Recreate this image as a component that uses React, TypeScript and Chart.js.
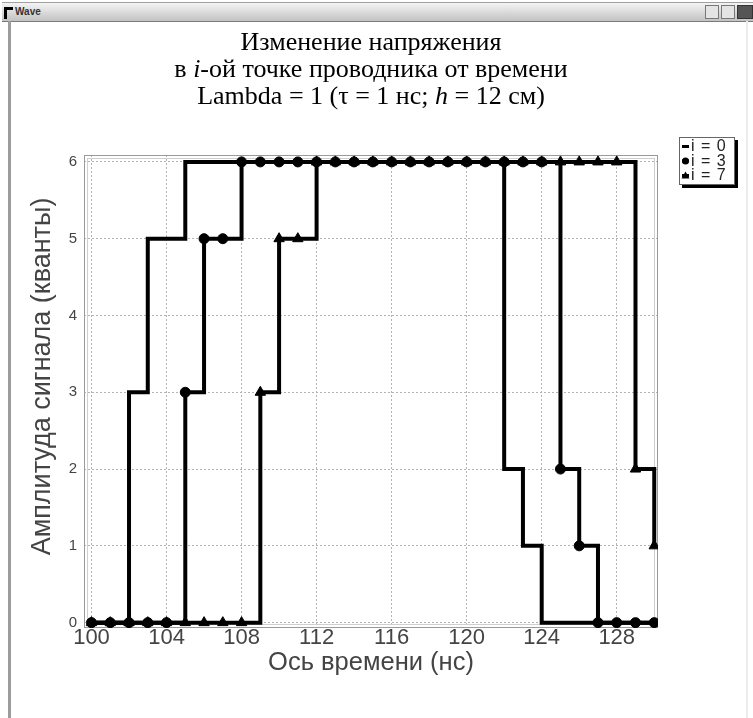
import React, { useEffect, useRef } from "react";
import { Chart, registerables } from "chart.js";

Chart.register(...registerables);

// ---- data ----
const times = [
  100, 101, 102, 103, 104, 105, 106, 107, 108, 109, 110, 111, 112, 113, 114, 115,
  116, 117, 118, 119, 120, 121, 122, 123, 124, 125, 126, 127, 128, 129, 130,
];
const seriesLabels = ["i = 0", "i = 3", "i = 7"];
const amp0 = [0, 0, 3, 5, 5, 6, 6, 6, 6, 6, 6, 6, 6, 6, 6, 6, 6, 6, 6, 6, 6, 6, 2, 1, 0, 0, 0, 0, 0, 0, 0];
const amp3 = [0, 0, 0, 0, 0, 3, 5, 5, 6, 6, 6, 6, 6, 6, 6, 6, 6, 6, 6, 6, 6, 6, 6, 6, 6, 2, 1, 0, 0, 0, 0];
const amp7 = [0, 0, 0, 0, 0, 0, 0, 0, 0, 3, 5, 5, 6, 6, 6, 6, 6, 6, 6, 6, 6, 6, 6, 6, 6, 6, 6, 6, 6, 2, 1];
const xTickValues = [100, 104, 108, 112, 116, 120, 124, 128];
const yTickValues = [0, 1, 2, 3, 4, 5, 6];
const xAxisTitle = "Ось времени (нс)";
const yAxisTitle = "Амплитуда сигнала (кванты)";
const titleLine1 = [{ text: "Изменение напряжения", italic: false }];
const titleLine2 = [
  { text: "в ", italic: false },
  { text: "i", italic: true },
  { text: "-ой точке проводника от времени", italic: false },
];
const titleLine3 = [
  { text: "Lambda = 1 (τ = 1 нс; ", italic: false },
  { text: "h", italic: true },
  { text: " = 12 см)", italic: false },
];
const titleLines = [titleLine1, titleLine2, titleLine3];

const SANS = '"Liberation Sans", Arial, sans-serif';
const SERIF = '"Liberation Serif", "Times New Roman", serif';

const titlePlugin = {
  id: "serifTitle",
  afterDraw(chart: any) {
    const ctx = chart.ctx;
    const cx = 359;
    const ys = [21, 48, 75];
    ctx.save();
    ctx.fillStyle = "#000";
    ctx.textBaseline = "middle";
    ctx.textAlign = "left";
    titleLines.forEach((segs, li) => {
      const fonts = segs.map((s) => `${s.italic ? "italic " : ""}26px ${SERIF}`);
      const widths = segs.map((s, k) => {
        ctx.font = fonts[k];
        return ctx.measureText(s.text).width;
      });
      const total = widths.reduce((a, b) => a + b, 0);
      let x = cx - total / 2;
      segs.forEach((s, k) => {
        ctx.font = fonts[k];
        ctx.fillText(s.text, x, ys[li]);
        x += widths[k];
      });
    });
    ctx.restore();
  },
};

const framePlugin = {
  id: "plotFrame",
  beforeDatasetsDraw(chart: any) {
    const { left, right, top, bottom } = chart.chartArea;
    const ctx = chart.ctx;
    ctx.save();
    ctx.strokeStyle = "#9a9a9a";
    ctx.lineWidth = 1;
    ctx.strokeRect(left + 0.5, top + 0.5, right - left - 1, bottom - top - 1);
    ctx.strokeStyle = "#cfcfcf";
    ctx.strokeRect(left + 3.5, top + 3.5, right - left - 7, bottom - top - 7);
    ctx.restore();
  },
};

const legendPlugin = {
  id: "boxLegend",
  afterDraw(chart: any) {
    const ctx = chart.ctx;
    const x0 = 667;
    const y0 = 115;
    const w = 56;
    const h = 48;
    ctx.save();
    ctx.fillStyle = "#000";
    ctx.fillRect(x0 + 3, y0 + 3, w, h);
    ctx.fillStyle = "#fff";
    ctx.fillRect(x0, y0, w, h);
    ctx.strokeStyle = "#666";
    ctx.lineWidth = 1;
    ctx.strokeRect(x0 + 0.5, y0 + 0.5, w - 1, h - 1);
    ctx.font = `16px ${SANS}`;
    ctx.textBaseline = "middle";
    chart.data.datasets.forEach((ds: any, i: number) => {
      const cy = y0 + 9.5 + i * 14.5;
      ctx.strokeStyle = "#000";
      ctx.fillStyle = "#000";
      ctx.lineWidth = 3;
      ctx.beginPath();
      ctx.moveTo(x0 + 3, cy);
      ctx.lineTo(x0 + 10, cy);
      ctx.stroke();
      if (ds.pointRadius > 0) {
        ctx.beginPath();
        if (ds.pointStyle === "circle") {
          ctx.arc(x0 + 6.5, cy, 3.5, 0, Math.PI * 2);
        } else {
          ctx.moveTo(x0 + 6.5, cy - 4);
          ctx.lineTo(x0 + 10.5, cy + 3);
          ctx.lineTo(x0 + 2.5, cy + 3);
          ctx.closePath();
        }
        ctx.fill();
      }
      ctx.fillStyle = "#222";
      (ctx as any).letterSpacing = "1px";
      ctx.fillText(ds.label, x0 + 12, cy + 0.5);
      (ctx as any).letterSpacing = "0px";
    });
    ctx.restore();
  },
};

function App() {
  const canvasRef = useRef<HTMLCanvasElement | null>(null);

  useEffect(() => {
    if (!canvasRef.current) return;
    const mk = (vals: number[]) => times.map((t, i) => ({ x: t, y: vals[i] }));
    const chart = new Chart(canvasRef.current, {
      type: "line",
      data: {
        datasets: [
          {
            label: seriesLabels[0],
            data: mk(amp0),
            borderColor: "#000",
            backgroundColor: "#000",
            borderWidth: 4,
            stepped: true,
            pointRadius: 0,
            pointStyle: "line",
          },
          {
            label: seriesLabels[1],
            data: mk(amp3),
            borderColor: "#000",
            backgroundColor: "#000",
            borderWidth: 4,
            stepped: true,
            pointRadius: 5,
            pointStyle: "circle",
            pointBackgroundColor: "#000",
            pointBorderColor: "#000",
            pointBorderWidth: 1,
          },
          {
            label: seriesLabels[2],
            data: mk(amp7),
            borderColor: "#000",
            backgroundColor: "#000",
            borderWidth: 4,
            stepped: true,
            pointRadius: 6,
            pointStyle: "triangle",
            pointBackgroundColor: "#000",
            pointBorderColor: "#000",
            pointBorderWidth: 1,
          },
        ],
      },
      options: {
        animation: false,
        responsive: false,
        devicePixelRatio: 1,
        layout: { padding: { top: 133, right: 95, bottom: 0, left: 0 } },
        plugins: {
          legend: { display: false },
          title: { display: false },
          tooltip: { enabled: false },
        },
        scales: {
          x: {
            type: "linear",
            min: 99.6,
            max: 130.2,
            afterBuildTicks: (s: any) => {
              s.ticks = xTickValues.map((v) => ({ value: v }));
            },
            afterFit: (s: any) => {
              s.height = 90;
            },
            ticks: {
              font: { family: SANS, size: 22, lineHeight: 1 },
              color: "#444",
              padding: -1,
              maxRotation: 0,
              autoSkip: false,
            },
            grid: { color: "#b4b4b4", lineWidth: 1, drawTicks: false },
            border: { display: false, dash: [2, 2] },
            title: {
              display: true,
              text: xAxisTitle,
              font: { family: SANS, size: 25.5 },
              color: "#444",
              padding: { top: 0, bottom: 40 },
            },
          },
          y: {
            type: "linear",
            min: -0.07,
            max: 6.09,
            afterBuildTicks: (s: any) => {
              s.ticks = yTickValues.map((v) => ({ value: v }));
            },
            afterFit: (s: any) => {
              s.width = 72;
            },
            ticks: {
              font: { family: SANS, size: 15 },
              color: "#444",
              padding: 7,
            },
            grid: { color: "#b4b4b4", lineWidth: 1, drawTicks: false },
            border: { display: false, dash: [2, 2] },
            title: {
              display: true,
              text: "    " + yAxisTitle,
              font: { family: SANS, size: 27 },
              color: "#444",
              padding: { top: 14, bottom: 0 },
            },
          },
        },
      },
      plugins: [framePlugin, titlePlugin, legendPlugin],
    });
    return () => chart.destroy();
  }, []);

  return (
    <div
      style={{
        position: "fixed",
        left: 0,
        top: 0,
        width: 753,
        height: 718,
        background: "#fff",
        overflow: "hidden",
        fontFamily: SANS,
      }}
    >
      <div
        style={{
          position: "absolute",
          left: 2,
          top: 2,
          width: 751,
          height: 18,
          background: "linear-gradient(to bottom, #f4f4f4, #d6d6d6 60%, #c2c2c2)",
          borderTop: "1px solid #a0a0a0",
          borderBottom: "1px solid #7a7a7a",
        }}
      >
        <div
          style={{
            position: "absolute",
            left: 2,
            top: 4,
            width: 6,
            height: 9,
            borderTop: "3px solid #000",
            borderLeft: "3px solid #000",
          }}
        />
        <div
          style={{
            position: "absolute",
            left: 13,
            top: 3,
            fontSize: 10,
            fontWeight: "bold",
            color: "#333",
          }}
        >
          Wave
        </div>
        <div style={{ position: "absolute", right: 34, top: 2, width: 12, height: 12, background: "#e4e4e4", border: "1px solid #777" }} />
        <div style={{ position: "absolute", right: 18, top: 2, width: 12, height: 12, background: "#e4e4e4", border: "1px solid #777" }} />
        <div style={{ position: "absolute", right: 0, top: 2, width: 14, height: 12, background: "#555", border: "1px solid #333" }} />
      </div>
      <div style={{ position: "absolute", left: 8, top: 21, width: 3, height: 697, background: "#9c9c9c" }} />
      <div style={{ position: "absolute", left: 746, top: 21, width: 2, height: 697, background: "#ececec" }} />
      <canvas
        ref={canvasRef}
        width={741}
        height={696}
        style={{ position: "absolute", left: 12, top: 22, width: 741, height: 696 }}
      />
    </div>
  );
}

export default App;
